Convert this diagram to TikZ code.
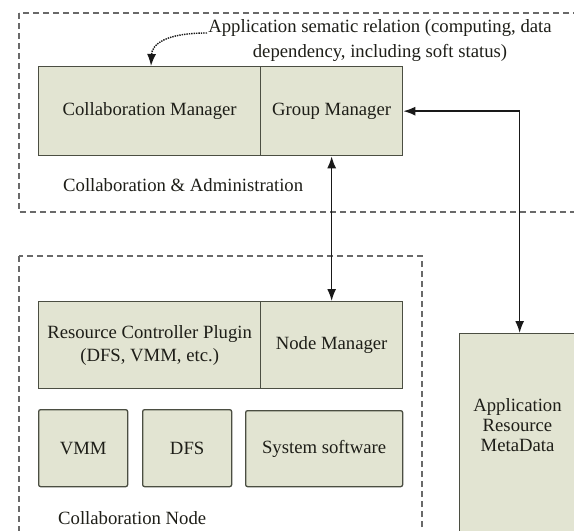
\documentclass[tikz,border=0pt]{standalone}
\usepackage{fontspec}
\setmainfont{Liberation Serif}
\usetikzlibrary{arrows.meta}
\definecolor{boxfill}{RGB}{226,228,210}
\definecolor{boxline}{RGB}{75,78,66}
\definecolor{txtc}{RGB}{30,30,24}
\definecolor{dashc}{RGB}{105,105,105}
\begin{document}
\begin{tikzpicture}[x=1pt,y=-1pt,
  blk/.style={draw=boxline,line width=1.3pt,fill=boxfill,text=txtc,
    font=\fontsize{18.7}{23}\selectfont,align=center,inner sep=0pt,anchor=north west},
  grp/.style={draw=dashc,line width=1.2pt,dash pattern=on 6pt off 4pt},
  lbl/.style={text=txtc,font=\fontsize{18.7}{25}\selectfont,inner sep=0pt},
  con/.style={draw=black!90,line width=1.5pt,{Latex[length=12pt,width=9pt]}-{Latex[length=12pt,width=9pt]}},
  dotcon/.style={draw=black!90,line width=1.4pt,densely dotted,-{Latex[length=12pt,width=9pt]}},
]
\useasboundingbox (0,0) rectangle (574,531);
\fill[white] (0,0) rectangle (574,531);
\clip (0,0) rectangle (574,531);

% dashed groups
\draw[grp] (19,13) rectangle (600,212);
\draw[grp] (19,256) rectangle (422,560);

% top blocks
\node[blk,minimum width=222pt,minimum height=89pt] (cm) at (38,66) {Collaboration Manager};
\node[blk,minimum width=142pt,minimum height=89pt] (gm) at (260,66) {Group Manager};

% node blocks
\node[blk,minimum width=222pt,minimum height=87pt] (rcp) at (38,301) {Resource Controller Plugin\\(DFS, VMM, etc.)};
\node[blk,minimum width=142pt,minimum height=87pt] (nm) at (260,301) {Node Manager};

\node[blk,rounded corners=2pt,minimum width=89pt,minimum height=77pt] (vmm) at (38,409) {VMM};
\node[blk,rounded corners=2pt,minimum width=89pt,minimum height=77pt] (dfs) at (142,409) {DFS};
\node[blk,rounded corners=2pt,minimum width=157pt,minimum height=76pt] (sys) at (245,410) {System software};

% metadata
\node[blk,minimum width=120pt,minimum height=198pt] (meta) at (459,333) {};
\node[lbl,align=center,font=\fontsize{18.7}{20}\selectfont] (metatxt) at (517.5,425) {Application\\Resource\\MetaData};

% labels
\node[lbl,anchor=west] (ca) at (63,185) {Collaboration \& Administration};
\node[lbl,anchor=west] (cn) at (58,518) {Collaboration Node};
\node[lbl,align=center] (rel) at (380,41) {Application sematic relation (computing, data\\dependency, including soft status)};

% connectors
\coordinate (dstart) at (207,33);
\coordinate (dend) at (151,66);
\draw[dotcon] (dstart) .. controls (166,33) and (152,44) .. (dend);
\draw[con] (gm.south) -- (nm.north);
\draw[con] (gm.east) -| (meta.north);
\end{tikzpicture}
\end{document}
